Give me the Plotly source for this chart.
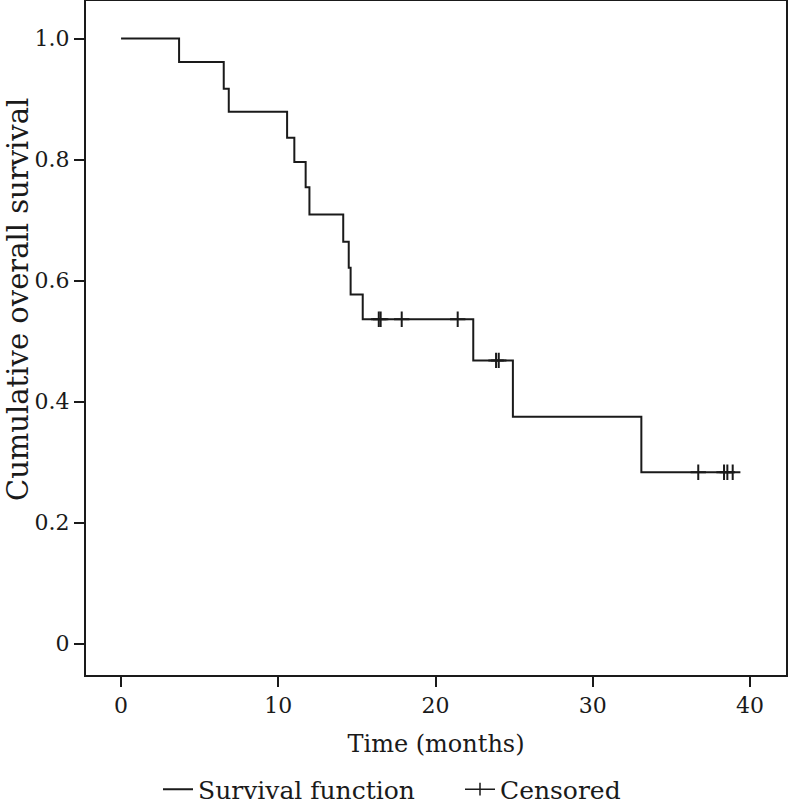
import plotly.graph_objects as go

# Kaplan-Meier step data (time in months, survival probability)
event_times = [0, 3.69, 6.53, 6.85, 10.56, 11.02, 11.74, 11.98, 14.13, 14.48, 14.60, 15.37, 22.40, 24.92, 33.09]
survival = [1.0, 0.961, 0.917, 0.879, 0.836, 0.796, 0.754, 0.709, 0.664, 0.621, 0.577, 0.536, 0.468, 0.375, 0.283]
end_time = 38.90

censor_times = [16.39, 16.51, 17.85, 21.41, 23.85, 24.02, 36.71, 38.35, 38.56, 38.90]
censor_surv = [0.536, 0.536, 0.536, 0.536, 0.468, 0.468, 0.283, 0.283, 0.283, 0.283]

x_ticks = [0, 10, 20, 30, 40]
y_ticks = [0, 0.2, 0.4, 0.6, 0.8, 1.0]
y_tick_labels = ["0", "0.2", "0.4", "0.6", "0.8", "1.0"]

FONT = "DejaVu Serif"
INK = "#1a1a1a"

step_x = event_times + [end_time]
step_y = survival + [survival[-1]]

fig = go.Figure()
fig.add_trace(go.Scatter(
    x=step_x, y=step_y, mode="lines", line=dict(shape="hv", color=INK, width=2),
    name="Survival function", hoverinfo="skip"))
fig.add_trace(go.Scatter(
    x=censor_times, y=censor_surv, mode="markers",
    marker=dict(symbol="cross-thin", size=11, line=dict(color=INK, width=2)),
    name="Censored", showlegend=False))
# legend entry for censored marks (line with tick, as in the reference key)
fig.add_trace(go.Scatter(
    x=[None], y=[None], mode="lines+markers", line=dict(color=INK, width=1.5),
    marker=dict(symbol="line-ns", size=9, line=dict(color=INK, width=1.5)),
    name="Censored"))

fig.update_layout(
    width=788, height=808,
    margin=dict(l=86, r=2, t=1, b=133),
    paper_bgcolor="white", plot_bgcolor="white",
    font=dict(family=FONT, size=22, color=INK),
    showlegend=True,
    legend=dict(orientation="h", xref="container", yref="container",
                x=158 / 788, xanchor="left", y=0.023, yanchor="middle",
                font=dict(family=FONT, size=25, color=INK),
                itemwidth=30, tracegroupgap=0, entrywidth=257,
                bgcolor="rgba(0,0,0,0)"),
    annotations=[dict(
        text="Cumulative overall survival", textangle=-90,
        xref="paper", yref="paper", x=(18 - 86) / 700, y=(675 - 300) / 674,
        xanchor="center", yanchor="middle", showarrow=False,
        font=dict(family=FONT, size=29, color=INK))],
)
fig.update_xaxes(
    range=[-2.23, 42.29], tickvals=x_ticks, ticks="outside", ticklen=10, tickwidth=1.5,
    tickcolor=INK, showline=True, linecolor=INK, linewidth=2, mirror=True,
    showgrid=False, zeroline=False, automargin=False,
    tickfont=dict(size=22),
    title=dict(text="Time (months)", font=dict(size=24), standoff=18),
)
fig.update_yaxes(
    range=[-0.052, 1.062], tickvals=y_ticks, ticktext=y_tick_labels, ticks="outside",
    ticklen=10, tickwidth=1.5, tickcolor=INK, showline=True, linecolor=INK, linewidth=2,
    mirror=True, showgrid=False, zeroline=False, automargin=False,
    tickfont=dict(size=22),
)

fig.write_html("out.html", config={"displayModeBar": False},
               post_script="document.body.style.margin='0';document.body.style.padding='0';")
